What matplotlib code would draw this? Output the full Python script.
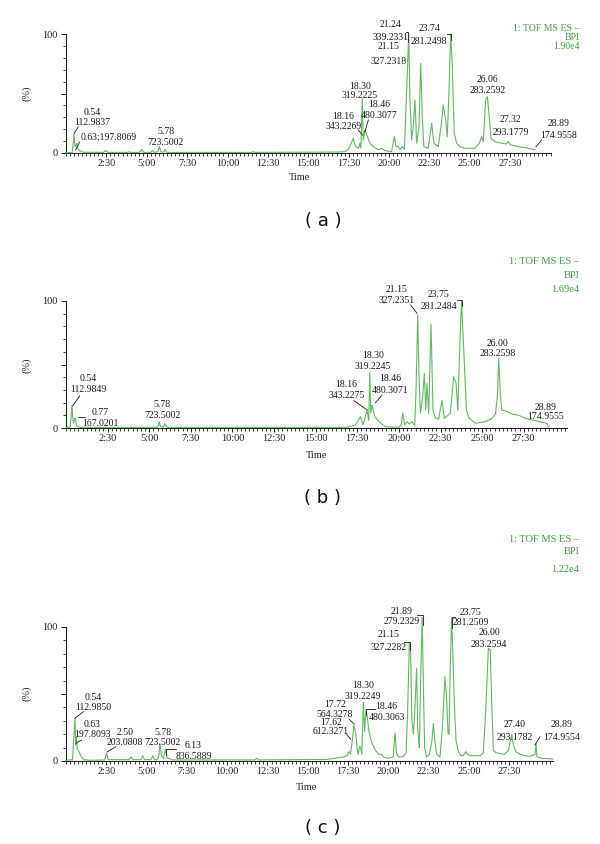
import matplotlib
matplotlib.use('Agg')
import matplotlib.pyplot as plt
from matplotlib.ticker import MultipleLocator, FixedLocator

# ---------------- data (time in min, intensity in %) ----------------
time_a = [0.0, 0.38, 0.45, 0.5, 0.55, 0.58, 0.67, 0.72, 0.79, 1.06, 2.3, 2.46, 2.6, 3.8, 3.9, 4.0,
          4.55, 4.68, 4.8, 5.25, 5.35, 5.45, 5.68, 5.78, 5.88, 6.05, 6.13, 6.25, 9.0, 11.5, 11.6, 11.7,
          16.8, 17.27, 17.45, 17.58, 17.79, 17.93, 18.1, 18.2, 18.26, 18.35, 18.41, 18.51, 18.66,
          18.82, 19.03, 19.34, 19.54, 19.75, 20.16, 20.33, 20.43, 20.58, 20.68, 20.82, 20.95, 21.07,
          21.15, 21.22, 21.3, 21.4, 21.5, 21.61, 21.71, 21.86, 21.96, 22.06, 22.16, 22.43, 22.64,
          22.78, 23.05, 23.22, 23.36, 23.51, 23.61, 23.73, 23.82, 23.92, 24.04, 24.19, 24.39, 24.7,
          25.32, 25.59, 25.74, 25.84, 25.98, 26.09, 26.19, 26.31, 26.56, 26.97, 27.28, 27.39, 27.53,
          28.0, 28.63, 29.04]
inten_a = [0.3, 0.3, 8, 16.6, 6, 5.4, 8.2, 4, 2.6, 0.6, 0.5, 2, 0.5, 0.5, 1, 0.5,
           0.5, 3, 0.5, 0.5, 2, 0.5, 1, 5.4, 1, 0.8, 3, 0.5, 0.5, 0.5, 1.2, 0.5,
           0.8, 1.1, 3, 5.4, 12.4, 5.4, 4, 8.2, 4, 45.4, 11, 19.4, 13.8,
           8.2, 5.4, 2.6, 4, 2, 1.1, 13.8, 5.4, 5.4, 3, 5.4, 3, 44.6,
           72.6, 100, 44.6, 11, 22, 44.6, 8.2, 22, 75.4, 30.6, 5.4, 4, 25,
           8.2, 5.4, 22, 40.4, 27.8, 13.8, 58.6, 100, 72.6, 16.6, 8.2, 5.4, 4,
           4, 8.2, 13.8, 9.6, 44.6, 47.4, 33.4, 12.4, 9.6, 8.2, 7.6, 9.6, 6.8,
           5.4, 4, 2.6]

time_b = [0.0, 0.25, 0.3, 0.36, 0.42, 0.46, 0.52, 0.56, 0.62, 0.66, 0.8, 5.5, 5.6, 5.68, 5.85,
          5.94, 6.05, 16.5, 16.98, 17.39, 17.69, 17.85, 18.09, 18.19, 18.25, 18.31, 18.39, 18.55,
          18.79, 19.19, 20.0, 20.15, 20.23, 20.35, 20.49, 20.63, 20.79, 20.95, 21.03, 21.13, 21.21,
          21.29, 21.43, 21.53, 21.61, 21.69, 21.79, 21.93, 22.05, 22.19, 22.39, 22.59, 22.73,
          23.09, 23.29, 23.44, 23.54, 23.66, 23.76, 23.9, 24.06, 24.2, 24.6, 25.2, 25.6, 25.8,
          25.92, 26.0, 26.08, 26.18, 26.4, 26.8, 27.2, 27.6, 28.0, 28.4, 28.9, 28.96]
inten_b = [0.3, 0.5, 8, 18, 6, 4, 7, 8, 3, 1.3, 0.5, 0.5, 5, 1, 0.8,
           3.4, 0.5, 0.5, 0.8, 2.4, 9, 2.4, 14, 6, 43.6, 12, 18, 9,
           5, 1, 0.5, 3, 11.6, 2.4, 5, 3, 5, 2, 30, 89, 40,
           11.6, 24.7, 43, 14, 35, 11.6, 82, 14, 8, 7, 22, 7.6,
           11.6, 40.4, 35, 14, 64, 100, 60, 14, 8, 3.7, 5, 7.6, 11,
           25, 55, 30, 14, 13.5, 11, 10, 7.6, 6.3, 5, 3.7, 1]

time_c = [0.0, 0.4, 0.5, 0.56, 0.6, 0.64, 0.7, 0.8, 0.95, 1.1, 1.5, 2.4, 2.52, 2.62, 3.9, 4.04,
          4.15, 4.65, 4.76, 4.87, 5.28, 5.38, 5.48, 5.65, 5.75, 5.83, 5.92, 6.05, 6.18, 6.28, 6.45,
          6.55, 11.7, 11.83, 11.95, 16.2, 17.2, 17.45, 17.56, 17.65, 17.75, 17.87, 17.98, 18.08,
          18.13, 18.22, 18.28, 18.35, 18.45, 18.52, 18.61, 18.7, 18.8, 18.95, 19.07, 19.2, 19.4,
          19.58, 19.7, 20.0, 20.3, 20.41, 20.5, 20.62, 20.9, 21.1, 21.2, 21.3, 21.38, 21.46, 21.55,
          21.65, 21.75, 21.82, 21.88, 21.92, 22.0, 22.1, 22.18, 22.25, 22.37, 22.55, 22.7, 22.79,
          22.88, 23.0, 23.2, 23.35, 23.51, 23.62, 23.7, 23.76, 23.84, 23.92, 24.0, 24.1, 24.2,
          24.34, 24.5, 24.65, 24.8, 24.9, 25.1, 25.7, 25.89, 26.05, 26.2, 26.32, 26.42, 26.51,
          26.7, 27.2, 27.45, 27.65, 27.75, 27.9, 28.16, 28.5, 28.78, 29.1, 29.16, 29.22, 29.6, 30.2]
inten_c = [0.5, 1, 20, 32, 12, 18, 9, 7, 3, 1, 0.5, 0.8, 6, 1, 1, 3,
           1, 1, 4, 1, 1, 4, 1, 1, 3, 13, 4, 2, 9, 2, 2,
           0.8, 0.8, 2, 0.8, 1.2, 3, 4, 7, 5, 14, 27, 20, 8,
           5, 11, 10, 5, 44, 22, 38, 32, 22, 14, 11, 8, 5,
           5, 3, 2, 3, 21, 6, 3, 3, 6, 40, 88, 80, 30, 20,
           40, 69, 25, 15, 10, 60, 107, 50, 10, 3, 5, 15, 28,
           15, 5, 3, 25, 63, 45, 20, 20, 70, 107, 80, 40, 15,
           7, 4, 4, 7, 5, 4, 4, 6, 40, 84, 83, 40, 8,
           6, 5, 8, 20, 12, 7, 5, 4, 3.5, 5, 13, 3, 2, 1.5]

tick_pos = [2.5, 5, 7.5, 10, 12.5, 15, 17.5, 20, 22.5, 25, 27.5]
tick_lab = ['2:30', '5:00', '7:30', '10:00', '12:30', '15:00', '17:30', '20:00', '22:30', '25:00', '27:30']

legend_a = ['1: TOF MS ES \u2013', 'BPI', '1.90e4']
legend_b = ['1: TOF MS ES \u2013', 'BPI', '1.69e4']
legend_c = ['1: TOF MS ES \u2013', 'BPI', '1.22e4']

labels_a = ['0.54\n112.9837', '0.63;197.8069', '5.78\n723.5002', '18.16\n343.2269', '18.30\n319.2225',
            '18.46\n480.3077', '21.24\n339.2331', '21.15\n327.2318', '23.74\n281.2498',
            '26.06\n283.2592', '27.32\n293.1779', '28.89\n174.9558']
labels_b = ['0.54\n112.9849', '0.77\n167.0201', '5.78\n723.5002', '18.16\n343.2275', '18.30\n319.2245',
            '18.46\n480.3071', '21.15\n327.2351', '23.75\n281.2484', '26.00\n283.2598', '28.89\n174.9555']
labels_c = ['0.54\n112.9850', '0.63\n197.8093', '2.50\n203.0808', '5.78\n723.5002', '6.13\n836.5889',
            '17.62\n612.3271', '17.72\n564.3278', '18.30\n319.2249', '18.46\n480.3063',
            '21.15\n327.2282', '21.89\n279.2329', '23.75\n281.2509', '26.00\n283.2594',
            '27.40\n293.1782', '28.89\n174.9554']

# ---------------- layout ----------------
W, H = 600, 844
GREEN = '#62b862'
LEG = '#3f9f3f'
SERIF = ['Liberation Serif', 'DejaVu Serif']

fig = plt.figure(figsize=(6, 8.44), dpi=100)


def fx(px):
    return px / W


def fy(py):
    return 1 - py / H


panels = [
    dict(t=time_a, v=inten_a, left=66, right=550.5, top=34, bot=153, xmax=30.0,
         labels=labels_a, legend=legend_a, leg_y=[28.5, 37.5, 46.5], leg_fs=7,
         pos=[(1.65, 30), (2.64, 13.4), (6.17, 13.4), (17.17, 26.6), (18.2, 52), (19.4, 36),
              (20.09, 102.7), (19.99, 83), (22.49, 99.2), (26.11, 57.4), (27.55, 22.6), (30.48, 19.6)],
         spacing=[1.2, 1.2, 1.2, 1.1, 1.1, 1.2, 1.55, 1.8, 1.5, 1.3, 1.5, 1.4],
         lines=[[(0.76, 22), (0.51, 16.6)], [(0.84, 9.2), (0.6, 2.5)],
                [(18.1, 19.3), (18.35, 15)], [(18.72, 27.7), (18.51, 17.9)],
                [(21.03, 101.7), (21.2, 101.7), (21.2, 93.3)],
                [(23.57, 100), (23.82, 100), (23.82, 95)],
                [(29.45, 10.9), (29.1, 5.3)]],
         name='( a )', name_y=221, time_xy=(300, 178), pct_y=93),
    dict(t=time_b, v=inten_b, left=66, right=567, top=301, bot=428, xmax=30.1,
         labels=labels_b, legend=legend_b, leg_y=[261.7, 275.7, 290], leg_fs=7.5,
         pos=[(1.32, 34.5), (2.08, 8), (5.77, 14.2), (16.84, 30), (18.43, 52.6), (19.49, 34.5),
              (19.85, 105), (22.4, 100.2), (25.94, 62.4), (28.81, 12.8)],
         spacing=[1.3, 1.3, 1.4, 1.3, 1.2, 1.4, 1.3, 1.4, 1.2, 1.0],
         lines=[[(0.82, 25.2), (0.4, 17.3)], [(0.72, 8.4), (1.16, 8.4)],
                [(17.29, 21.5), (18.09, 14.2)], [(18.99, 26), (18.59, 19.9)],
                [(20.7, 96.9), (21.09, 90.3)],
                [(23.5, 100.8), (23.8, 100.8), (23.8, 96)]],
         name='( b )', name_y=498, time_xy=(317, 456), pct_y=365),
    dict(t=time_c, v=inten_c, left=66, right=552.8, top=627, bot=761, xmax=30.2,
         labels=labels_c, legend=legend_c, leg_y=[540, 551.7, 570], leg_fs=7.5,
         pos=[(1.69, 43.4), (1.63, 23.5), (3.66, 17.5), (6.0, 17.5), (7.9, 7.6), (16.44, 25.4),
              (16.69, 38.4), (18.44, 52.2), (19.89, 36.6), (20.0, 89.7), (20.8, 108),
              (25.09, 107.3), (26.26, 91.2), (27.85, 22.5), (30.75, 22.5)],
         spacing=[1.1, 1.1, 1.1, 1.1, 1.2, 0.95, 1.1, 1.3, 1.4, 1.55, 1.2, 1.2, 1.45, 1.6, 1.6],
         lines=[[(1.07, 36.8), (0.56, 31.9)], [(0.97, 15.7), (0.62, 13.2)],
                [(3.1, 10.7), (2.56, 6.9)],
                [(6.18, 4.5), (6.18, 8.7), (6.82, 8.7)],
                [(17.41, 19.9), (17.66, 16.2)], [(17.57, 31.1), (17.87, 27.6)],
                [(18.61, 34.3), (18.61, 38.6), (19.17, 38.6)],
                [(20.97, 89), (21.34, 89), (21.34, 82.8)],
                [(21.76, 109), (22.13, 109), (22.13, 101.5)],
                [(23.93, 99), (23.93, 107.7), (24.13, 107.7)],
                [(29.4, 18.1), (29.09, 11.9)]],
         name='( c )', name_y=828, time_xy=(307, 787), pct_y=693),
]

for p in panels:
    ax = fig.add_axes([fx(p['left']), fy(p['bot']), fx(p['right']) - fx(p['left']),
                       (p['bot'] - p['top']) / H])
    ax.plot(p['t'], p['v'], color=GREEN, lw=0.8, clip_on=False, zorder=3)
    ax.set_xlim(0, p['xmax'])
    ax.set_ylim(0, 100)
    for s in ('top', 'right'):
        ax.spines[s].set_visible(False)
    for s in ('left', 'bottom'):
        ax.spines[s].set_linewidth(0.8)
        ax.spines[s].set_color('#222222')
    ax.set_facecolor('none')
    ax.xaxis.set_major_locator(FixedLocator(tick_pos))
    ax.set_xticklabels(tick_lab)
    ax.xaxis.set_minor_locator(MultipleLocator(0.25))
    ax.yaxis.set_major_locator(FixedLocator([0, 50, 100]))
    ax.set_yticklabels(['0', '', '100'])
    ax.yaxis.set_minor_locator(MultipleLocator(10))
    ax.tick_params(axis='x', which='major', length=3, width=0.7, pad=1.5, labelsize=7.5,
                   direction='out', color='#222222')
    ax.tick_params(axis='x', which='minor', length=2, width=0.6, direction='out', color='#222222')
    ax.tick_params(axis='y', which='major', length=3.5, width=0.7, pad=2.5, labelsize=7.5,
                   direction='out', color='#222222')
    ax.tick_params(axis='y', which='minor', length=2, width=0.6, direction='out', color='#222222')
    for lab in ax.get_xticklabels() + ax.get_yticklabels():
        lab.set_family(SERIF)
        lab.set_color('#222222')

    for txt, (x, y), ls in zip(p['labels'], p['pos'], p['spacing']):
        ax.text(x, y, txt, ha='center', va='center', fontsize=7, family=SERIF,
                color='#1a1a1a', linespacing=ls, clip_on=False, zorder=4)
    for seg in p['lines']:
        xs = [q[0] for q in seg]
        ys = [q[1] for q in seg]
        ax.plot(xs, ys, color='#1a1a1a', lw=0.6, clip_on=False, zorder=4)

    for txt, ly in zip(p['legend'], p['leg_y']):
        fig.text(fx(579.5), fy(ly), txt, ha='right', va='center', fontsize=p['leg_fs'],
                 family=SERIF, color=LEG)

    fig.text(fx(27), fy(p['pct_y']), '(%)', rotation=90, ha='center', va='center',
             fontsize=7.5, family=SERIF, color='#222222')
    fig.text(fx(p['time_xy'][0]), fy(p['time_xy'][1]), 'Time', ha='center', va='center',
             fontsize=7.5, family=SERIF, color='#222222')
    fig.text(fx(323), fy(p['name_y']), p['name'], ha='center', va='center', fontsize=13,
             family='DejaVu Sans', color='#111111')

fig.savefig('out.png', dpi=100)
